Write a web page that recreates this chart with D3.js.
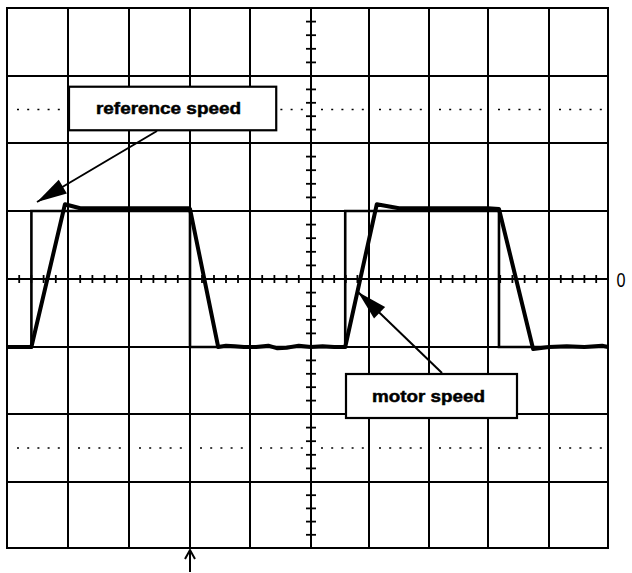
<!DOCTYPE html>
<html><head><meta charset="utf-8">
<script src="https://cdn.jsdelivr.net/npm/d3@7"></script>
<style>html,body{margin:0;padding:0;background:#fff;}</style>
</head><body>
<svg id="c" width="632" height="573"></svg>
<script>
// ---- data (time in divisions, level in divisions) ----
const xDivs = [0,1,2,3,4,5,6,7,8,9,10];
const yDivs = [-4,-3,-2,-1,0,1,2,3,4];
const dottedLevels = [2.5, -2.5];
const refTime  = [0, 0.40, 0.40, 3.0, 3.0, 5.59, 5.59, 8.18, 8.18, 10];
const refLevel = [-1, -1, 1, 1, -1, -1, 1, 1, -1, -1];
const motorTime  = [0, 0.40, 0.95, 1.2, 2.0, 2.98, 3.0, 3.47, 3.6, 3.75, 3.9, 4.1, 4.3, 4.45, 4.6, 4.8, 5.0, 5.2, 5.4, 5.59, 6.13, 6.5, 7.0, 7.5, 8.0, 8.18, 8.74, 9.0, 9.3, 9.6, 9.9, 10];
const motorLevel = [-1, -1, 1.1, 1.04, 1.04, 1.04, 1.03, -1, -0.98, -0.99, -1, -1, -0.98, -1.02, -1.01, -0.98, -1, -0.99, -1, -1, 1.1, 1.04, 1.04, 1.04, 1.04, 1.03, -1.03, -1, -0.99, -1, -0.98, -1];
const labels = ["reference speed", "motor speed"];
const zeroLabel = "0";

// ---- scales (scanned grid is slightly uneven: polylinear) ----
const x = d3.scaleLinear().domain(xDivs).range([7,68,129,190,250,311,369,429,488,549,608]);
const y = d3.scaleLinear().domain(yDivs).range([548,482,414,347,279,211,143,76,8]);

const svg = d3.select("#c");
const g = svg.append("g");

// grid
g.selectAll("line.v").data(xDivs).enter().append("line")
  .attr("x1", d=>x(d)).attr("x2", d=>x(d)).attr("y1", y(4)).attr("y2", y(-4))
  .attr("stroke","#000").attr("stroke-width",2);
g.selectAll("line.h").data(yDivs).enter().append("line")
  .attr("y1", d=>y(d)).attr("y2", d=>y(d)).attr("x1", x(0)-1).attr("x2", x(10)+1)
  .attr("stroke","#000").attr("stroke-width",2);

// dotted lines
dottedLevels.forEach(lv=>{
  xDivs.slice(0,-1).forEach(d=>{
    const x0 = x(d), x1 = x(d+1);
    g.append("line").attr("x1", x0+10).attr("x2", x1-5).attr("y1", y(lv)).attr("y2", y(lv))
      .attr("stroke","#000").attr("stroke-width",1.5).attr("stroke-dasharray","2,8.2");
  });
});

// center ticks
const subX = d3.range(0,10.001,0.2).filter(v=>Math.abs(v-Math.round(v))>0.01);
g.selectAll("line.tx").data(subX).enter().append("line")
  .attr("x1", d=>x(d)).attr("x2", d=>x(d)).attr("y1", y(0)-4).attr("y2", y(0)+4)
  .attr("stroke","#000").attr("stroke-width",1.8);
const subY = d3.range(-4,4.001,0.2).filter(v=>Math.abs(v-Math.round(v))>0.01);
g.selectAll("line.ty").data(subY).enter().append("line")
  .attr("y1", d=>y(d)).attr("y2", d=>y(d)).attr("x1", x(5)-5).attr("x2", x(5)+5)
  .attr("stroke","#000").attr("stroke-width",1.8);

// traces
const line = d3.line().x(d=>x(d[0])).y(d=>y(d[1]));
g.append("path").datum(d3.zip(refTime, refLevel)).attr("d", line)
  .attr("fill","none").attr("stroke","#000").attr("stroke-width",2.6).attr("stroke-linejoin","miter");
g.append("path").datum(d3.zip(motorTime, motorLevel)).attr("d", line)
  .attr("fill","none").attr("stroke","#000").attr("stroke-width",4).attr("stroke-linejoin","round");

// zero label
svg.append("text").attr("x", 621).attr("y", y(0)+8).attr("text-anchor","middle")
  .attr("font-family","Liberation Sans, Arial, sans-serif").attr("font-size",21)
  .attr("textLength",9).attr("lengthAdjust","spacingAndGlyphs").text(zeroLabel);

// arrowhead helper
function arrow(x1,y1,x2,y2,len,hw){
  g.append("line").attr("x1",x1).attr("y1",y1).attr("x2",x2).attr("y2",y2)
    .attr("stroke","#000").attr("stroke-width",2);
  const a = Math.atan2(y2-y1,x2-x1);
  const bx = x2 - len*Math.cos(a), by = y2 - len*Math.sin(a);
  const px = -Math.sin(a)*hw, py = Math.cos(a)*hw;
  g.append("path").attr("d",`M${x2},${y2}L${bx+px},${by+py}L${bx-px},${by-py}Z`).attr("fill","#000");
}

// annotation boxes
function box(x0,y0,x1,y1,txt,cx,by,tl){
  g.append("rect").attr("x",x0).attr("y",y0).attr("width",x1-x0).attr("height",y1-y0)
    .attr("fill","#fff").attr("stroke","#000").attr("stroke-width",2.2);
  g.append("text").attr("x",cx).attr("y",by).attr("text-anchor","middle")
    .attr("font-family","Liberation Sans, Arial, sans-serif").attr("font-weight","bold")
    .attr("font-size",17).attr("stroke","#000").attr("stroke-width",0.5)
    .attr("textLength",tl).attr("lengthAdjust","spacingAndGlyphs").text(txt);
}
box(x(1)+1, y(2.84), x(4.43), y(2.19), labels[0], 168.5, 114, 145);
arrow(157, 131, 37, 202, 30, 8);
box(346, 374, 517, 418, labels[1], 428.5, 402, 113);
arrow(442, 373, 358, 292, 30, 8);

// bottom marker arrow
g.append("line").attr("x1",x(3)).attr("x2",x(3)).attr("y1",550).attr("y2",572)
  .attr("stroke","#000").attr("stroke-width",2);
g.append("path").attr("d",`M${x(3)-5},${559}L${x(3)},${550}L${x(3)+5},${559}`)
  .attr("fill","none").attr("stroke","#000").attr("stroke-width",2);
</script>
</body></html>
